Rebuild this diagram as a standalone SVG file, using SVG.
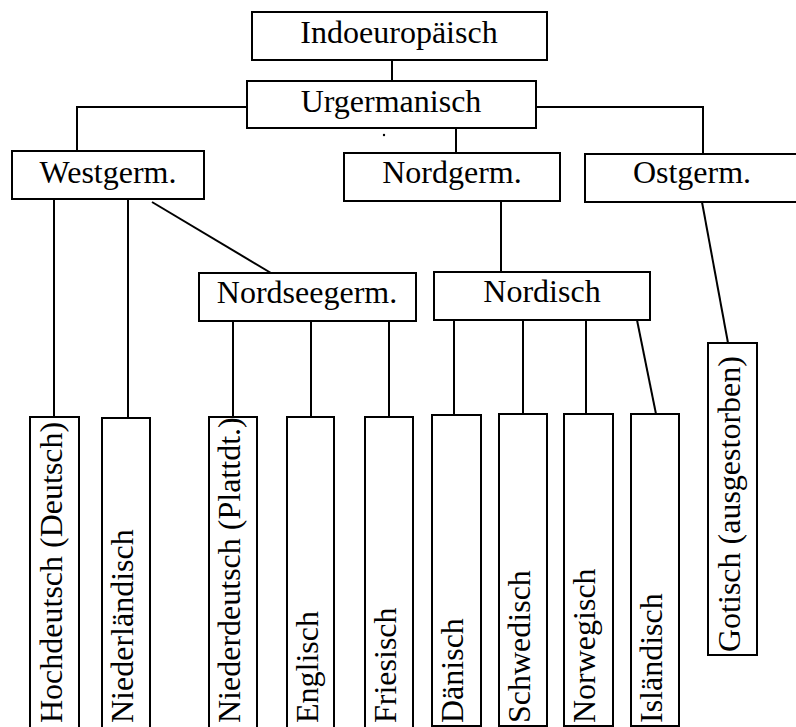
<svg xmlns="http://www.w3.org/2000/svg" width="796" height="727" viewBox="0 0 796 727">
<style>
.box{fill:#fff;stroke:#000;stroke-width:2}
.t{font-family:"Liberation Serif","Times New Roman",serif;font-size:32px;fill:#000}
.c{text-anchor:middle}
.ln{stroke:#000;stroke-width:2;fill:none}
</style>
<rect width="796" height="727" fill="#fff"/>
<g id="connectors">
<line class="ln" x1="392" y1="60" x2="392" y2="81"/>
<polyline class="ln" points="247,107 77,107 77,151"/>
<polyline class="ln" points="536,107 703,107 703,154"/>
<line class="ln" x1="456" y1="128" x2="456" y2="153"/>
<line class="ln" x1="54" y1="200" x2="54" y2="417"/>
<line class="ln" x1="128" y1="200" x2="128" y2="418"/>
<line class="ln" x1="152" y1="202" x2="271" y2="273"/>
<line class="ln" x1="501" y1="201" x2="501" y2="272"/>
<line class="ln" x1="702" y1="202" x2="728" y2="343"/>
<line class="ln" x1="233" y1="321" x2="233" y2="417"/>
<line class="ln" x1="311" y1="321" x2="311" y2="417"/>
<line class="ln" x1="389" y1="321" x2="389" y2="417"/>
<line class="ln" x1="454" y1="320" x2="454" y2="415"/>
<line class="ln" x1="523" y1="320" x2="523" y2="414"/>
<line class="ln" x1="586" y1="320" x2="586" y2="414"/>
<line class="ln" x1="637" y1="320" x2="656" y2="414"/>
</g>
<circle cx="384" cy="135" r="1.2" fill="#000"/>
<g id="indoeuropaeisch"><rect class="box" x="252" y="12" width="295" height="48"/><text class="t c" x="399" y="43">Indoeuropäisch</text></g>
<g id="urgermanisch"><rect class="box" x="247" y="81" width="289" height="47"/><text class="t c" x="391" y="112">Urgermanisch</text></g>
<g id="westgerm"><rect class="box" x="12" y="151" width="192" height="48"/><text class="t c" x="108" y="183">Westgerm.</text></g>
<g id="nordgerm"><rect class="box" x="344" y="153" width="216" height="48"/><text class="t c" x="452" y="183">Nordgerm.</text></g>
<g id="ostgerm"><rect class="box" x="585" y="154" width="215" height="48"/><text class="t c" x="692" y="183">Ostgerm.</text></g>
<g id="nordseegerm"><rect class="box" x="199" y="273" width="217" height="48"/><text class="t c" x="307" y="303">Nordseegerm.</text></g>
<g id="nordisch"><rect class="box" x="434" y="272" width="216" height="48"/><text class="t c" x="542" y="302">Nordisch</text></g>
<g id="hochdeutsch"><rect class="box" x="30" y="417" width="49" height="315"/><text class="t" transform="translate(62,723) rotate(-90)">Hochdeutsch (Deutsch)</text></g>
<g id="niederlaendisch"><rect class="box" x="102" y="418" width="48" height="314"/><text class="t" transform="translate(133,723) rotate(-90)">Niederländisch</text></g>
<g id="niederdeutsch"><rect class="box" x="209" y="417" width="48" height="315"/><text class="t" transform="translate(240,723) rotate(-90)">Niederdeutsch (Plattdt.)</text></g>
<g id="englisch"><rect class="box" x="287" y="417" width="47" height="315"/><text class="t" transform="translate(318,723) rotate(-90)">Englisch</text></g>
<g id="friesisch"><rect class="box" x="365" y="417" width="48" height="315"/><text class="t" transform="translate(396,723) rotate(-90)">Friesisch</text></g>
<g id="daenisch"><rect class="box" x="432" y="415" width="49" height="311"/><text class="t" transform="translate(463,723) rotate(-90)">Dänisch</text></g>
<g id="schwedisch"><rect class="box" x="499" y="414" width="48" height="312"/><text class="t" transform="translate(530,723) rotate(-90)">Schwedisch</text></g>
<g id="norwegisch"><rect class="box" x="564" y="414" width="49" height="312"/><text class="t" transform="translate(595,723) rotate(-90)">Norwegisch</text></g>
<g id="islaendisch"><rect class="box" x="631" y="414" width="48" height="312"/><text class="t" transform="translate(662,723) rotate(-90)">Isländisch</text></g>
<g id="gotisch"><rect class="box" x="708" y="343" width="49" height="312"/><text class="t" transform="translate(740,652) rotate(-90)">Gotisch (ausgestorben)</text></g>
</svg>
